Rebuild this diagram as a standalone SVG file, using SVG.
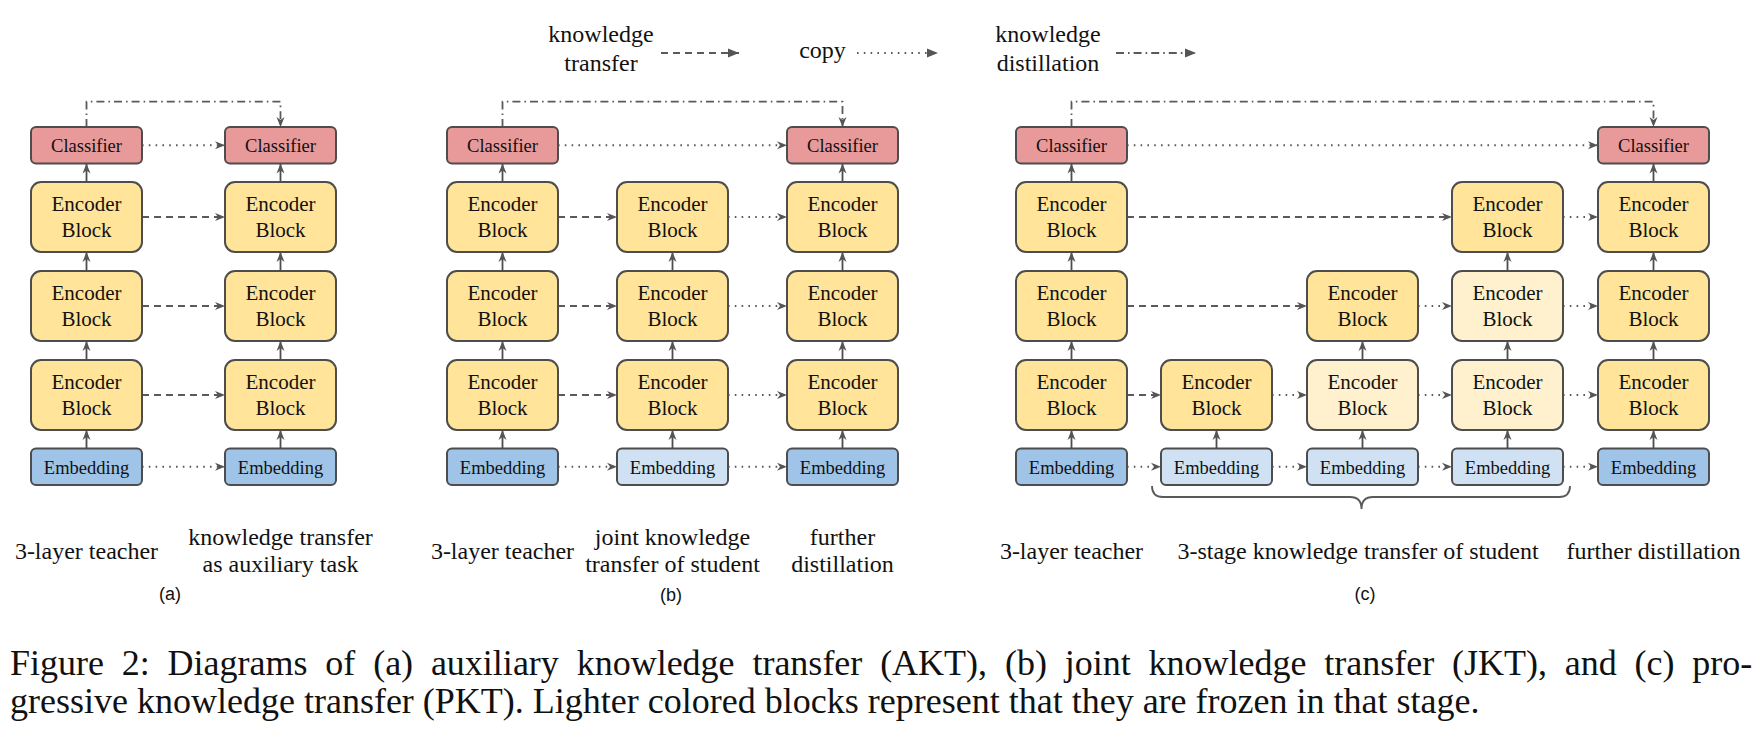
<svg xmlns="http://www.w3.org/2000/svg" width="1762" height="732" viewBox="0 0 1762 732">
<style>
.bx{stroke:#4d4d4d;stroke-width:2}
.cls{fill:#e89999}
.enc{fill:#ffe499}
.encl{fill:#fff1ce}
.emb{fill:#9fc4e8}
.embl{fill:#cfe1f3}
text{font-family:"Liberation Serif","Times New Roman",serif;fill:#111;text-anchor:middle}
.t18{font-size:18.5px}
.t21{font-size:21px}
.lbl{font-size:24px}
.sub{font-family:"Liberation Sans",Arial,sans-serif;font-size:18px}
.cap{font-size:36px;text-anchor:start}
.c{fill:none;stroke:#5a5a5a;stroke-width:1.8;marker-end:url(#ah)}
.solid{stroke:#4d4d4d}
.dash{stroke-dasharray:7 5}
.dot{stroke-dasharray:1.6 5.2}
.dd{stroke-dasharray:8 4 1.6 4}
.lg{fill:none;stroke:#5a5a5a;stroke-width:1.8;marker-end:url(#lh)}
.brace{fill:none;stroke:#5a5a5a;stroke-width:1.8}
</style>
<defs>
<marker id="ah" markerUnits="userSpaceOnUse" markerWidth="11" markerHeight="10" viewBox="0 0 11 10" refX="10.5" refY="5" orient="auto">
<path d="M0.5,1 L10.5,5 L0.5,9 L3.5,5 z" fill="#555"/>
</marker>
<marker id="lh" markerUnits="userSpaceOnUse" markerWidth="12" markerHeight="10" viewBox="0 0 12 10" refX="11.5" refY="5" orient="auto">
<path d="M0.5,0.5 L11.5,5 L0.5,9.5 z" fill="#555"/>
</marker>
</defs>

<g id="legend">
<text class="lbl" x="601" y="42">knowledge</text>
<text class="lbl" x="601" y="71">transfer</text>
<path class="lg dash" d="M661,53 H739"/>
<text class="lbl" x="822.5" y="58">copy</text>
<path class="lg dot" d="M857,53 H938"/>
<text class="lbl" x="1048" y="42">knowledge</text>
<text class="lbl" x="1048" y="71">distillation</text>
<path class="lg dd" d="M1116,53 H1196"/>
</g>

<g id="connectors">
<!-- panel a -->
<path class="c dd" d="M86.5,127 V101.7 H280.5 V127"/>
<path class="c solid" d="M86.5,448.5 V430"/>
<path class="c solid" d="M86.5,360 V341"/>
<path class="c solid" d="M86.5,271 V252"/>
<path class="c solid" d="M86.5,182 V163.5"/>
<path class="c solid" d="M280.5,448.5 V430"/>
<path class="c solid" d="M280.5,360 V341"/>
<path class="c solid" d="M280.5,271 V252"/>
<path class="c solid" d="M280.5,182 V163.5"/>
<path class="c dot" d="M142,145.25 H225"/>
<path class="c dash" d="M142,217 H225"/>
<path class="c dash" d="M142,306 H225"/>
<path class="c dash" d="M142,395 H225"/>
<path class="c dot" d="M142,466.75 H225"/>
<!-- panel b -->
<path class="c dd" d="M502.5,127 V101.7 H842.5 V127"/>
<path class="c solid" d="M502.5,448.5 V430"/>
<path class="c solid" d="M502.5,360 V341"/>
<path class="c solid" d="M502.5,271 V252"/>
<path class="c solid" d="M502.5,182 V163.5"/>
<path class="c solid" d="M672.5,448.5 V430"/>
<path class="c solid" d="M672.5,360 V341"/>
<path class="c solid" d="M672.5,271 V252"/>
<path class="c solid" d="M842.5,448.5 V430"/>
<path class="c solid" d="M842.5,360 V341"/>
<path class="c solid" d="M842.5,271 V252"/>
<path class="c solid" d="M842.5,182 V163.5"/>
<path class="c dot" d="M558,145.25 H787"/>
<path class="c dash" d="M558,217 H617"/>
<path class="c dash" d="M558,306 H617"/>
<path class="c dash" d="M558,395 H617"/>
<path class="c dot" d="M558,466.75 H617"/>
<path class="c dot" d="M728,217 H787"/>
<path class="c dot" d="M728,306 H787"/>
<path class="c dot" d="M728,395 H787"/>
<path class="c dot" d="M728,466.75 H787"/>
<!-- panel c -->
<path class="c dd" d="M1071.5,127 V101.7 H1653.5 V127"/>
<path class="c solid" d="M1071.5,448.5 V430"/>
<path class="c solid" d="M1071.5,360 V341"/>
<path class="c solid" d="M1071.5,271 V252"/>
<path class="c solid" d="M1071.5,182 V163.5"/>
<path class="c solid" d="M1216.5,448.5 V430"/>
<path class="c solid" d="M1362.5,448.5 V430"/>
<path class="c solid" d="M1362.5,360 V341"/>
<path class="c solid" d="M1507.5,448.5 V430"/>
<path class="c solid" d="M1507.5,360 V341"/>
<path class="c solid" d="M1507.5,271 V252"/>
<path class="c solid" d="M1653.5,448.5 V430"/>
<path class="c solid" d="M1653.5,360 V341"/>
<path class="c solid" d="M1653.5,271 V252"/>
<path class="c solid" d="M1653.5,182 V163.5"/>
<path class="c dot" d="M1127,145.25 H1598"/>
<path class="c dash" d="M1127,217 H1452"/>
<path class="c dash" d="M1127,306 H1307"/>
<path class="c dash" d="M1127,395 H1161"/>
<path class="c dot" d="M1272,395 H1307"/>
<path class="c dot" d="M1418,395 H1452"/>
<path class="c dot" d="M1563,395 H1598"/>
<path class="c dot" d="M1418,306 H1452"/>
<path class="c dot" d="M1563,306 H1598"/>
<path class="c dot" d="M1563,217 H1598"/>
<path class="c dot" d="M1127,466.75 H1161"/>
<path class="c dot" d="M1272,466.75 H1307"/>
<path class="c dot" d="M1418,466.75 H1452"/>
<path class="c dot" d="M1563,466.75 H1598"/>
<path class="brace" d="M1152,486 Q1152,497 1163,497 L1350,497 Q1361.5,497 1361.5,509 Q1361.5,497 1373,497 L1559,497 Q1570,497 1570,486"/>
</g>

<!-- panel a nodes -->
<g id="a-cls1"><rect class="bx cls" x="31" y="127" width="111" height="36.5" rx="5"/><text class="t18" x="86.5" y="152">Classifier</text></g>
<g id="a-enc1-1"><rect class="bx enc" x="31" y="182" width="111" height="70" rx="10"/><text class="t21" x="86.5" y="211">Encoder</text><text class="t21" x="86.5" y="237">Block</text></g>
<g id="a-enc1-2"><rect class="bx enc" x="31" y="271" width="111" height="70" rx="10"/><text class="t21" x="86.5" y="300">Encoder</text><text class="t21" x="86.5" y="326">Block</text></g>
<g id="a-enc1-3"><rect class="bx enc" x="31" y="360" width="111" height="70" rx="10"/><text class="t21" x="86.5" y="389">Encoder</text><text class="t21" x="86.5" y="415">Block</text></g>
<g id="a-emb1"><rect class="bx emb" x="31" y="448.5" width="111" height="36.5" rx="5"/><text class="t18" x="86.5" y="473.5">Embedding</text></g>

<g id="a-cls2"><rect class="bx cls" x="225" y="127" width="111" height="36.5" rx="5"/><text class="t18" x="280.5" y="152">Classifier</text></g>
<g id="a-enc2-1"><rect class="bx enc" x="225" y="182" width="111" height="70" rx="10"/><text class="t21" x="280.5" y="211">Encoder</text><text class="t21" x="280.5" y="237">Block</text></g>
<g id="a-enc2-2"><rect class="bx enc" x="225" y="271" width="111" height="70" rx="10"/><text class="t21" x="280.5" y="300">Encoder</text><text class="t21" x="280.5" y="326">Block</text></g>
<g id="a-enc2-3"><rect class="bx enc" x="225" y="360" width="111" height="70" rx="10"/><text class="t21" x="280.5" y="389">Encoder</text><text class="t21" x="280.5" y="415">Block</text></g>
<g id="a-emb2"><rect class="bx emb" x="225" y="448.5" width="111" height="36.5" rx="5"/><text class="t18" x="280.5" y="473.5">Embedding</text></g>

<!-- panel b nodes -->
<g id="b-cls1"><rect class="bx cls" x="447" y="127" width="111" height="36.5" rx="5"/><text class="t18" x="502.5" y="152">Classifier</text></g>
<g id="b-enc1-1"><rect class="bx enc" x="447" y="182" width="111" height="70" rx="10"/><text class="t21" x="502.5" y="211">Encoder</text><text class="t21" x="502.5" y="237">Block</text></g>
<g id="b-enc1-2"><rect class="bx enc" x="447" y="271" width="111" height="70" rx="10"/><text class="t21" x="502.5" y="300">Encoder</text><text class="t21" x="502.5" y="326">Block</text></g>
<g id="b-enc1-3"><rect class="bx enc" x="447" y="360" width="111" height="70" rx="10"/><text class="t21" x="502.5" y="389">Encoder</text><text class="t21" x="502.5" y="415">Block</text></g>
<g id="b-emb1"><rect class="bx emb" x="447" y="448.5" width="111" height="36.5" rx="5"/><text class="t18" x="502.5" y="473.5">Embedding</text></g>

<g id="b-enc2-1"><rect class="bx enc" x="617" y="182" width="111" height="70" rx="10"/><text class="t21" x="672.5" y="211">Encoder</text><text class="t21" x="672.5" y="237">Block</text></g>
<g id="b-enc2-2"><rect class="bx enc" x="617" y="271" width="111" height="70" rx="10"/><text class="t21" x="672.5" y="300">Encoder</text><text class="t21" x="672.5" y="326">Block</text></g>
<g id="b-enc2-3"><rect class="bx enc" x="617" y="360" width="111" height="70" rx="10"/><text class="t21" x="672.5" y="389">Encoder</text><text class="t21" x="672.5" y="415">Block</text></g>
<g id="b-emb2"><rect class="bx embl" x="617" y="448.5" width="111" height="36.5" rx="5"/><text class="t18" x="672.5" y="473.5">Embedding</text></g>

<g id="b-cls3"><rect class="bx cls" x="787" y="127" width="111" height="36.5" rx="5"/><text class="t18" x="842.5" y="152">Classifier</text></g>
<g id="b-enc3-1"><rect class="bx enc" x="787" y="182" width="111" height="70" rx="10"/><text class="t21" x="842.5" y="211">Encoder</text><text class="t21" x="842.5" y="237">Block</text></g>
<g id="b-enc3-2"><rect class="bx enc" x="787" y="271" width="111" height="70" rx="10"/><text class="t21" x="842.5" y="300">Encoder</text><text class="t21" x="842.5" y="326">Block</text></g>
<g id="b-enc3-3"><rect class="bx enc" x="787" y="360" width="111" height="70" rx="10"/><text class="t21" x="842.5" y="389">Encoder</text><text class="t21" x="842.5" y="415">Block</text></g>
<g id="b-emb3"><rect class="bx emb" x="787" y="448.5" width="111" height="36.5" rx="5"/><text class="t18" x="842.5" y="473.5">Embedding</text></g>

<!-- panel c nodes -->
<g id="c-cls1"><rect class="bx cls" x="1016" y="127" width="111" height="36.5" rx="5"/><text class="t18" x="1071.5" y="152">Classifier</text></g>
<g id="c-enc1-1"><rect class="bx enc" x="1016" y="182" width="111" height="70" rx="10"/><text class="t21" x="1071.5" y="211">Encoder</text><text class="t21" x="1071.5" y="237">Block</text></g>
<g id="c-enc1-2"><rect class="bx enc" x="1016" y="271" width="111" height="70" rx="10"/><text class="t21" x="1071.5" y="300">Encoder</text><text class="t21" x="1071.5" y="326">Block</text></g>
<g id="c-enc1-3"><rect class="bx enc" x="1016" y="360" width="111" height="70" rx="10"/><text class="t21" x="1071.5" y="389">Encoder</text><text class="t21" x="1071.5" y="415">Block</text></g>
<g id="c-emb1"><rect class="bx emb" x="1016" y="448.5" width="111" height="36.5" rx="5"/><text class="t18" x="1071.5" y="473.5">Embedding</text></g>

<g id="c-enc2-3"><rect class="bx enc" x="1161" y="360" width="111" height="70" rx="10"/><text class="t21" x="1216.5" y="389">Encoder</text><text class="t21" x="1216.5" y="415">Block</text></g>
<g id="c-emb2"><rect class="bx embl" x="1161" y="448.5" width="111" height="36.5" rx="5"/><text class="t18" x="1216.5" y="473.5">Embedding</text></g>

<g id="c-enc3-2"><rect class="bx enc" x="1307" y="271" width="111" height="70" rx="10"/><text class="t21" x="1362.5" y="300">Encoder</text><text class="t21" x="1362.5" y="326">Block</text></g>
<g id="c-enc3-3"><rect class="bx encl" x="1307" y="360" width="111" height="70" rx="10"/><text class="t21" x="1362.5" y="389">Encoder</text><text class="t21" x="1362.5" y="415">Block</text></g>
<g id="c-emb3"><rect class="bx embl" x="1307" y="448.5" width="111" height="36.5" rx="5"/><text class="t18" x="1362.5" y="473.5">Embedding</text></g>

<g id="c-enc4-1"><rect class="bx enc" x="1452" y="182" width="111" height="70" rx="10"/><text class="t21" x="1507.5" y="211">Encoder</text><text class="t21" x="1507.5" y="237">Block</text></g>
<g id="c-enc4-2"><rect class="bx encl" x="1452" y="271" width="111" height="70" rx="10"/><text class="t21" x="1507.5" y="300">Encoder</text><text class="t21" x="1507.5" y="326">Block</text></g>
<g id="c-enc4-3"><rect class="bx encl" x="1452" y="360" width="111" height="70" rx="10"/><text class="t21" x="1507.5" y="389">Encoder</text><text class="t21" x="1507.5" y="415">Block</text></g>
<g id="c-emb4"><rect class="bx embl" x="1452" y="448.5" width="111" height="36.5" rx="5"/><text class="t18" x="1507.5" y="473.5">Embedding</text></g>

<g id="c-cls5"><rect class="bx cls" x="1598" y="127" width="111" height="36.5" rx="5"/><text class="t18" x="1653.5" y="152">Classifier</text></g>
<g id="c-enc5-1"><rect class="bx enc" x="1598" y="182" width="111" height="70" rx="10"/><text class="t21" x="1653.5" y="211">Encoder</text><text class="t21" x="1653.5" y="237">Block</text></g>
<g id="c-enc5-2"><rect class="bx enc" x="1598" y="271" width="111" height="70" rx="10"/><text class="t21" x="1653.5" y="300">Encoder</text><text class="t21" x="1653.5" y="326">Block</text></g>
<g id="c-enc5-3"><rect class="bx enc" x="1598" y="360" width="111" height="70" rx="10"/><text class="t21" x="1653.5" y="389">Encoder</text><text class="t21" x="1653.5" y="415">Block</text></g>
<g id="c-emb5"><rect class="bx emb" x="1598" y="448.5" width="111" height="36.5" rx="5"/><text class="t18" x="1653.5" y="473.5">Embedding</text></g>

<g id="labels">
<text class="lbl" x="86.5" y="559">3-layer teacher</text>
<text class="lbl" x="280.5" y="545">knowledge transfer</text>
<text class="lbl" x="280.5" y="572">as auxiliary task</text>
<text class="sub" x="170" y="600">(a)</text>
<text class="lbl" x="502.5" y="559">3-layer teacher</text>
<text class="lbl" x="672.5" y="545">joint knowledge</text>
<text class="lbl" x="672.5" y="572">transfer of student</text>
<text class="lbl" x="842.5" y="545">further</text>
<text class="lbl" x="842.5" y="572">distillation</text>
<text class="sub" x="671" y="601">(b)</text>
<text class="lbl" x="1071.5" y="559">3-layer teacher</text>
<text class="lbl" x="1358" y="559">3-stage knowledge transfer of student</text>
<text class="lbl" x="1653.5" y="559">further distillation</text>
<text class="sub" x="1365" y="600">(c)</text>
</g>

<g id="caption">
<text class="cap" x="10" y="675" word-spacing="8.8">Figure 2: Diagrams of (a) auxiliary knowledge transfer (AKT), (b) joint knowledge transfer (JKT), and (c) pro-</text>
<text class="cap" x="10" y="713">gressive knowledge transfer (PKT). Lighter colored blocks represent that they are frozen in that stage.</text>
</g>
</svg>
